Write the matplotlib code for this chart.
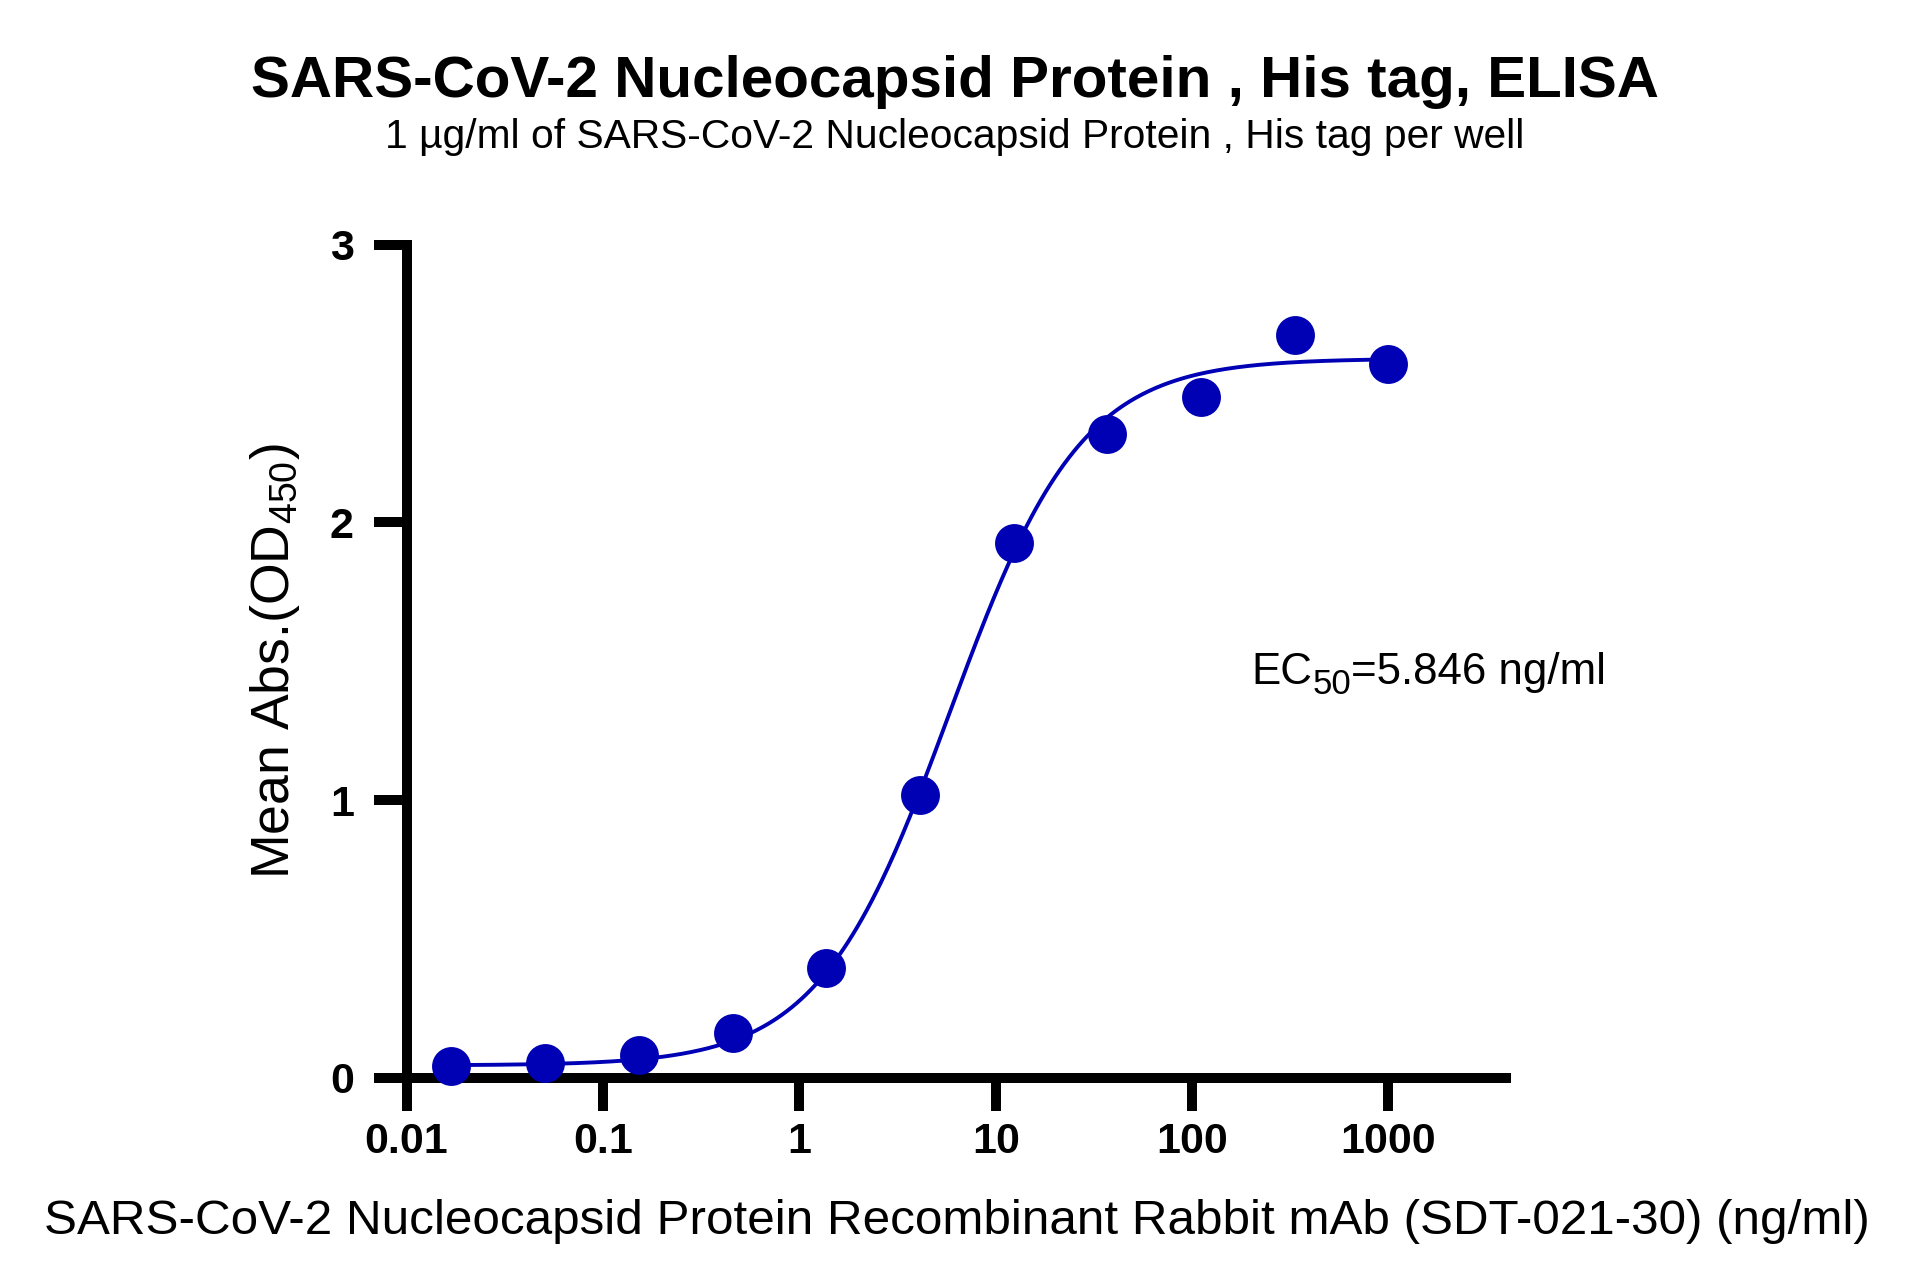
import numpy as np
import matplotlib
matplotlib.use("Agg")
import matplotlib.pyplot as plt

plt.rcParams['font.family'] = ['Liberation Sans', 'DejaVu Sans']
plt.rcParams['mathtext.default'] = 'regular'

# antibody concentration (ng/ml) and mean OD450
conc = [0.0169, 0.0508, 0.152, 0.457, 1.372, 4.115, 12.35, 37.04, 111.1, 333.3, 1000]
od450 = [0.044, 0.053, 0.084, 0.163, 0.396, 1.02, 1.927, 2.318, 2.45, 2.675, 2.569]

# 4PL fit parameters
bottom = 0.045
top = 2.59
ec50 = 5.846
hill = 1.3

xticks = [0.01, 0.1, 1, 10, 100, 1000]
xtick_labels = ['0.01', '0.1', '1', '10', '100', '1000']
yticks = [0, 1, 2, 3]

color = '#0000b4'

fig = plt.figure(figsize=(9.545, 6.405), dpi=200)
ax = fig.add_axes([0.213, 0.1585, 0.576, 0.6505])

xfit = np.logspace(np.log10(conc[0]), np.log10(conc[-1]), 400)
yfit = bottom + (top - bottom) / (1 + (ec50 / xfit) ** hill)
ax.plot(xfit, yfit, color=color, lw=1.4, zorder=2)
ax.plot(conc, od450, 'o', color=color, ms=13, mec=color, zorder=3, clip_on=False)

ax.set_xscale('log')
ax.set_xlim(0.01, 3980)
ax.set_ylim(0, 3)
ax.set_xticks(xticks)
ax.set_xticklabels(xtick_labels)
ax.xaxis.set_minor_locator(matplotlib.ticker.NullLocator())
ax.set_yticks(yticks)

for s in ['top', 'right']:
    ax.spines[s].set_visible(False)
for s in ['left', 'bottom']:
    ax.spines[s].set_linewidth(3.6)
ax.tick_params(width=3.6, length=12, labelsize=15.5)
ax.tick_params(axis='x', pad=4)
ax.tick_params(axis='y', pad=7)
for lab in ax.get_xticklabels() + ax.get_yticklabels():
    lab.set_fontweight('bold')

ax.set_xlabel('SARS-CoV-2 Nucleocapsid Protein Recombinant Rabbit mAb (SDT-021-30) (ng/ml)',
              fontsize=17.8, labelpad=13)
ax.set_ylabel('Mean Abs.(OD$_{450}$)', fontsize=19.3, labelpad=10)

# EC50 annotation built from pieces so the subscript matches the original
ec_x, ec_y = 200, 1.42
ax.annotate('EC', (ec_x, ec_y), xytext=(0, 0), textcoords='offset points',
            fontsize=15.8, ha='left', va='baseline')
ax.annotate('50', (ec_x, ec_y), xytext=(22.0, -3.6), textcoords='offset points',
            fontsize=12.5, ha='left', va='baseline')
ax.annotate('=5.846 ng/ml', (ec_x, ec_y), xytext=(35.8, 0), textcoords='offset points',
            fontsize=15.8, ha='left', va='baseline')

fig.text(0.5, 0.936, 'SARS-CoV-2 Nucleocapsid Protein , His tag, ELISA',
         ha='center', va='center', fontsize=21, fontweight='bold')
fig.text(0.5, 0.893, '1 µg/ml of SARS-CoV-2 Nucleocapsid Protein , His tag per well',
         ha='center', va='center', fontsize=14.7)

fig.savefig('out.png', dpi=200)
